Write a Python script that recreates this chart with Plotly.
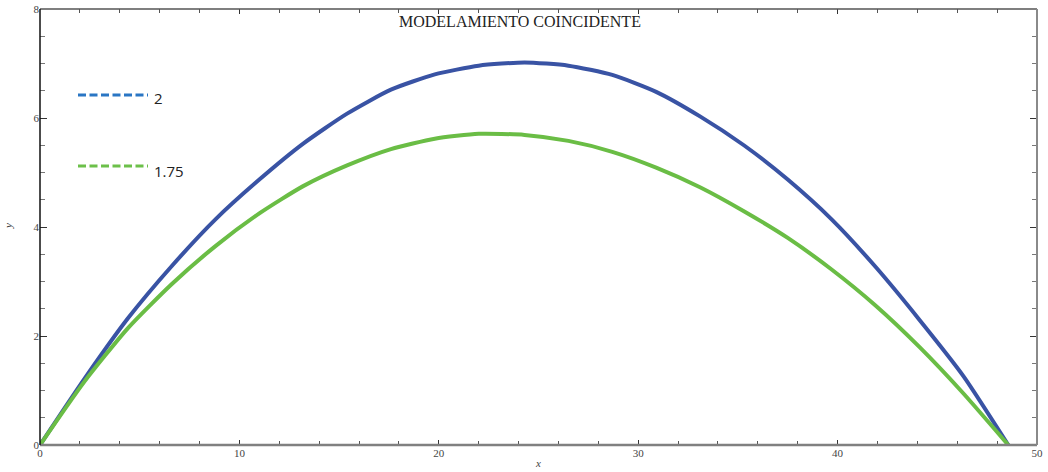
import plotly.graph_objects as go

# ---- data ----
x_vals = [0, 2.2, 4.4, 6.6, 8.8, 11.0, 13.2, 15.4, 17.6, 19.8, 22.0, 24.3,
          26.5, 28.7, 30.9, 33.1, 35.3, 37.5, 39.7, 41.9, 44.1, 46.3, 48.56]
y_2 = [0, 1.20, 2.32, 3.28, 4.14, 4.87, 5.53, 6.08, 6.52, 6.80, 6.96, 7.02,
       6.96, 6.79, 6.48, 6.03, 5.50, 4.87, 4.14, 3.27, 2.30, 1.27, 0]
y_175 = [0, 1.15, 2.14, 2.95, 3.65, 4.25, 4.75, 5.13, 5.43, 5.62, 5.71, 5.69,
         5.58, 5.38, 5.09, 4.73, 4.29, 3.80, 3.22, 2.56, 1.80, 0.95, 0]
series_names = ["2", "1.75"]
title_text = "MODELAMIENTO COINCIDENTE"

line_colors = ["#3953a4", "#6abd45"]
legend_colors = ["#2a76c4", "#6cc04a"]

fig = go.Figure()
fig.add_trace(go.Scatter(x=x_vals, y=y_2, mode="lines", name=series_names[0],
                         line=dict(color=line_colors[0], width=4, shape="spline", smoothing=0.6),
                         showlegend=False))
fig.add_trace(go.Scatter(x=x_vals, y=y_175, mode="lines", name=series_names[1],
                         line=dict(color=line_colors[1], width=4, shape="spline", smoothing=0.6),
                         showlegend=False))

L, R, T, B = 40, 11, 9, 27
W, H = 1048, 472
pw, ph = W - L - R, H - T - B

def px(xp):
    return (xp - L) / pw

def py(yp):
    return (H - B - yp) / ph

shapes = []
# border lines
shapes.append(dict(type="line", xref="paper", yref="paper", x0=0, x1=1, y0=0, y1=0,
                   line=dict(color="#808080", width=2.5)))
shapes.append(dict(type="line", xref="paper", yref="paper", x0=0, x1=1, y0=1, y1=1,
                   line=dict(color="#555555", width=1.5)))
shapes.append(dict(type="line", xref="paper", yref="paper", x0=0, x1=0, y0=0, y1=1,
                   line=dict(color="#111111", width=1.5)))
shapes.append(dict(type="line", xref="paper", yref="paper", x0=1, x1=1, y0=0, y1=1,
                   line=dict(color="#8a8a8a", width=2)))
# legend samples
leg_y = [95, 166]
for c, yy in zip(legend_colors, leg_y):
    shapes.append(dict(type="line", xref="paper", yref="paper", x0=px(78), x1=px(148),
                       y0=py(yy), y1=py(yy), line=dict(color=c, width=3, dash="8px,3.5px")))

annotations = [
    dict(text=title_text, xref="paper", yref="paper", x=px(520), y=py(22),
         showarrow=False, font=dict(family="Liberation Serif", size=16, color="#222"),
         xanchor="center", yanchor="middle"),
    dict(text="<i>x</i>", xref="paper", yref="paper", x=px(538), y=py(463),
         showarrow=False, font=dict(family="Liberation Serif", size=11, color="#444"),
         xanchor="center", yanchor="middle"),
    dict(text="<i>y</i>", xref="paper", yref="paper", x=px(8), y=py(226), textangle=-90,
         showarrow=False, font=dict(family="Liberation Serif", size=11, color="#444"),
         xanchor="center", yanchor="middle"),
]
for name, yy in zip(series_names, [98, 171]):
    annotations.append(dict(text=name, xref="paper", yref="paper", x=px(152), y=py(yy),
                            showarrow=False, xanchor="left", yanchor="middle",
                            font=dict(family="Open Sans", size=15, color="#222")))

fig.update_layout(
    template="none",
    width=W, height=H,
    margin=dict(l=L, r=R, t=T, b=B, pad=0, autoexpand=False),
    paper_bgcolor="white", plot_bgcolor="white",
    showlegend=False,
    shapes=shapes, annotations=annotations,
    xaxis=dict(range=[0, 50], dtick=10, tick0=0, ticks="inside", ticklen=5,
               tickcolor="#333", tickwidth=1, mirror="ticks", showline=False,
               showgrid=False, zeroline=False, automargin=False,
               tickfont=dict(family="Liberation Serif", size=11, color="#444"),
               minor=dict(dtick=2, ticks="inside", ticklen=4, tickcolor="#555",
                          showgrid=False)),
    yaxis=dict(range=[0, 8], dtick=2, tick0=0, ticks="inside", ticklen=7,
               tickcolor="#333", tickwidth=1, mirror="ticks", showline=False,
               showgrid=False, zeroline=False, automargin=False,
               tickfont=dict(family="Liberation Serif", size=11, color="#444"),
               minor=dict(dtick=0.5, ticks="inside", ticklen=5, tickcolor="#777",
                          showgrid=False)),
)

post = ("document.body.style.margin='0';document.body.style.padding='0';"
        "document.documentElement.style.overflow='hidden';"
        "document.body.style.overflow='hidden';"
        "var d=document.getElementById('{plot_id}');"
        "d.style.position='fixed';d.style.left='0px';d.style.top='0px';")
fig.write_html("out.html", post_script=post, config={"displayModeBar": False})
